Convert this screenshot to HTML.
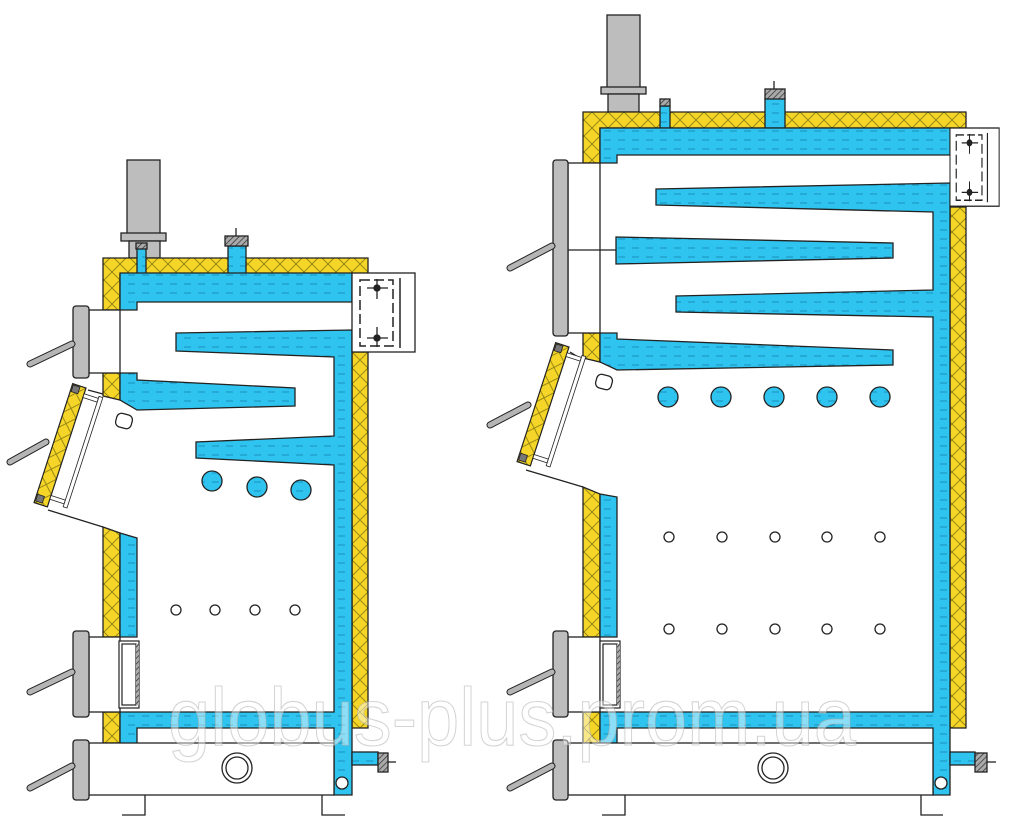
<!DOCTYPE html>
<html><head><meta charset="utf-8"><style>html,body{margin:0;padding:0;background:#fff}svg{display:block}</style></head>
<body>
<svg width="1024" height="830" viewBox="0 0 1024 830" xmlns="http://www.w3.org/2000/svg">
<defs>
<pattern id="w" width="14" height="9" patternUnits="userSpaceOnUse">
<rect width="14" height="9" fill="#2ec4ef"/>
<line x1="2" y1="5" x2="9" y2="5" stroke="#1a8fb8" stroke-width="1"/>
</pattern>
<pattern id="y" width="16" height="16" patternUnits="userSpaceOnUse">
<rect width="16" height="16" fill="#f5d628"/>
<path d="M0 0L16 16M16 0L0 16" stroke="#8a7a10" stroke-width="0.8"/>
</pattern>
<pattern id="h" width="4" height="4" patternUnits="userSpaceOnUse" patternTransform="rotate(45)">
<rect width="4" height="4" fill="#aaa"/><line x1="0" y1="0" x2="0" y2="4" stroke="#333" stroke-width="1.5"/>
</pattern>
<g id="door">
<rect x="-14" y="0" width="14" height="125" fill="url(#y)" stroke="#222" stroke-width="1.2"/>
<rect x="-13" y="1" width="7" height="7" fill="#777" stroke="#222" stroke-width="0.8"/>
<rect x="-13" y="116" width="7" height="7" fill="#777" stroke="#222" stroke-width="0.8"/>
<rect x="0" y="6" width="15" height="4" fill="#fff" stroke="#222" stroke-width="0.8"/>
<rect x="0" y="113" width="15" height="4" fill="#fff" stroke="#222" stroke-width="0.8"/>
<rect x="15" y="4" width="4" height="116" fill="#fff" stroke="#222" stroke-width="0.8"/>
</g>
<g id="flue">
<rect x="0" y="0" width="63" height="79" fill="#fff" stroke="#222" stroke-width="1.3"/>
<rect x="8" y="7" width="33" height="66" fill="none" stroke="#222" stroke-width="1.5" stroke-dasharray="10 4"/>
<line x1="48" y1="5" x2="48" y2="75" stroke="#222" stroke-width="1.5"/>
<line x1="15" y1="15" x2="36" y2="15" stroke="#222"/><line x1="25" y1="6" x2="25" y2="26" stroke="#222"/>
<circle cx="25" cy="15" r="3" fill="#222"/>
<line x1="15" y1="65" x2="36" y2="65" stroke="#222"/><line x1="25" y1="54" x2="25" y2="74" stroke="#222"/>
<circle cx="25" cy="65" r="3" fill="#222"/>
</g>
<g id="ash">
<rect x="0" y="0" width="20" height="67" fill="#fff" stroke="#222" stroke-width="1.2"/>
<rect x="3" y="3" width="14" height="61" fill="#fff" stroke="#222" stroke-width="1.2"/>
<rect x="17" y="3" width="3" height="61" fill="url(#h)" stroke="none"/>
</g>
</defs>
<g stroke="#222" stroke-width="1.3">
<!-- ===== LEFT BOILER ===== -->
<rect x="127" y="160" width="33" height="74" fill="#bdbdbd"/>
<rect x="121" y="233" width="45" height="8" fill="#bdbdbd"/>
<rect x="129" y="241" width="31" height="17" fill="#bdbdbd"/>
<path d="M103 258H368V275H120V310H103Z" fill="url(#y)"/>
<rect x="352" y="352" width="16" height="376" fill="url(#y)"/>
<path d="M103 373H120V400L103 396Z" fill="url(#y)"/>
<path d="M103 527L120 533V637H103Z" fill="url(#y)"/>
<rect x="103" y="712" width="17" height="31" fill="url(#y)"/>
<rect x="137" y="248" width="9" height="28" fill="url(#w)"/>
<rect x="136" y="243" width="11" height="6" fill="url(#h)"/>
<rect x="228" y="246" width="18" height="30" fill="url(#w)"/>
<rect x="225" y="236" width="23" height="10" fill="url(#h)"/>
<line x1="236" y1="228" x2="236" y2="236"/>
<path d="M120 273H352V302H137V310H120Z" fill="url(#w)"/>
<path d="M176 333L352 330V795H334V728H137V744H120V712H334V465L196 458V442L334 436V357L176 351Z" fill="url(#w)"/>
<path d="M120 373H137V380L295 388V406L137 410L120 400Z" fill="url(#w)"/>
<path d="M120 533L137 538V637H120Z" fill="url(#w)"/>
<rect x="352" y="752" width="26" height="13" fill="url(#w)"/>
<rect x="378" y="753" width="10" height="19" fill="url(#h)"/>
<line x1="388" y1="762" x2="396" y2="762"/>
<circle cx="342" cy="783" r="6" fill="#fff"/>
<use href="#flue" x="352" y="273"/>
<rect x="89" y="310" width="31" height="63" fill="#fff"/>
<rect x="73" y="306" width="16" height="72" rx="3" fill="#bdbdbd"/>
<rect x="89" y="637" width="31" height="75" fill="#fff"/>
<use href="#ash" x="119" y="641"/>
<rect x="73" y="631" width="16" height="86" rx="3" fill="#bdbdbd"/>
<rect x="89" y="743" width="245" height="52" fill="#fff"/>
<rect x="73" y="740" width="16" height="60" rx="3" fill="#bdbdbd"/>
<circle cx="237" cy="768" r="15" fill="#fff"/><circle cx="237" cy="768" r="11" fill="#fff"/>
<path d="M122 815H145V795M345 815H322V795" fill="none"/>
<circle cx="212" cy="481" r="10" fill="url(#w)"/>
<circle cx="257" cy="487" r="10" fill="url(#w)"/>
<circle cx="301" cy="490" r="10" fill="url(#w)"/>
<g fill="#fff"><circle cx="176" cy="610" r="5"/><circle cx="215" cy="610" r="5"/><circle cx="255" cy="610" r="5"/><circle cx="295" cy="610" r="5"/></g>
<path d="M88 390L103 394M48 510L103 527" fill="none"/>
<use href="#door" transform="translate(86,388) rotate(18)"/>
<rect x="116" y="414" width="16" height="14" rx="5" fill="#fff" transform="rotate(15 124 421)"/>
<g stroke-width="7" stroke-linecap="round"><path d="M72 344L30 364M46 442L10 462M72 672L30 692M72 766L30 788" stroke="#222"/></g>
<g stroke-width="5" stroke-linecap="round"><path d="M72 344L30 364M46 442L10 462M72 672L30 692M72 766L30 788" stroke="#b5b5b5"/></g>
<!-- ===== RIGHT BOILER ===== -->
<rect x="607" y="15" width="33" height="73" fill="#bdbdbd"/>
<rect x="601" y="87" width="45" height="7" fill="#bdbdbd"/>
<rect x="608" y="94" width="31" height="18" fill="#bdbdbd"/>
<path d="M583 112H966V128H600V163H583Z" fill="url(#y)"/>
<rect x="950" y="207" width="16" height="521" fill="url(#y)"/>
<path d="M583 333H600V362L583 358Z" fill="url(#y)"/>
<path d="M583 487L600 494V637H583Z" fill="url(#y)"/>
<rect x="583" y="712" width="17" height="31" fill="url(#y)"/>
<rect x="660" y="106" width="10" height="22" fill="url(#w)"/>
<rect x="660" y="99" width="10" height="7" fill="url(#h)"/>
<rect x="765" y="98" width="20" height="30" fill="url(#w)"/>
<rect x="765" y="89" width="20" height="10" fill="url(#h)"/>
<line x1="774" y1="81" x2="774" y2="89"/>
<path d="M600 128H950V155H617V163H600Z" fill="url(#w)"/>
<path d="M656 189L950 183V795H933V728H617V743H600V712H933V317L676 312V296L933 290V212L656 205Z" fill="url(#w)"/>
<path d="M616 237L893 243V258L616 264Z" fill="url(#w)"/>
<path d="M600 333H617V339L893 350V365L617 370L600 362Z" fill="url(#w)"/>
<path d="M600 494L617 497V637H600Z" fill="url(#w)"/>
<rect x="950" y="752" width="25" height="13" fill="url(#w)"/>
<rect x="975" y="753" width="12" height="19" fill="url(#h)"/>
<line x1="987" y1="762" x2="996" y2="762"/>
<circle cx="941" cy="783" r="6" fill="#fff"/>
<use href="#flue" transform="translate(950,128) scale(0.78,0.99)"/>
<rect x="568" y="163" width="32" height="170" fill="#fff"/>
<line x1="568" y1="250" x2="616" y2="250"/>
<rect x="553" y="160" width="15" height="176" rx="3" fill="#bdbdbd"/>
<rect x="568" y="637" width="32" height="75" fill="#fff"/>
<use href="#ash" x="600" y="641"/>
<rect x="553" y="631" width="15" height="86" rx="3" fill="#bdbdbd"/>
<rect x="568" y="743" width="365" height="52" fill="#fff"/>
<rect x="553" y="740" width="15" height="60" rx="3" fill="#bdbdbd"/>
<circle cx="773" cy="768" r="15" fill="#fff"/><circle cx="773" cy="768" r="11" fill="#fff"/>
<path d="M602 815H625V795M943 815H921V795" fill="none"/>
<g fill="url(#w)"><circle cx="668" cy="397" r="10"/><circle cx="721" cy="397" r="10"/><circle cx="774" cy="397" r="10"/><circle cx="827" cy="397" r="10"/><circle cx="880" cy="397" r="10"/></g>
<g fill="#fff"><circle cx="669" cy="537" r="5"/><circle cx="722" cy="537" r="5"/><circle cx="775" cy="537" r="5"/><circle cx="827" cy="537" r="5"/><circle cx="880" cy="537" r="5"/>
<circle cx="669" cy="629" r="5"/><circle cx="722" cy="629" r="5"/><circle cx="775" cy="629" r="5"/><circle cx="827" cy="629" r="5"/><circle cx="880" cy="629" r="5"/></g>
<path d="M570 352L583 360M526 470L583 487" fill="none"/>
<use href="#door" transform="translate(569,347) rotate(18)"/>
<rect x="596" y="375" width="16" height="14" rx="5" fill="#fff" transform="rotate(15 604 382)"/>
<g stroke-width="7" stroke-linecap="round"><path d="M552 246L510 268M528 405L490 425M552 672L510 692M552 766L510 788" stroke="#222"/></g>
<g stroke-width="5" stroke-linecap="round"><path d="M552 246L510 268M528 405L490 425M552 672L510 692M552 766L510 788" stroke="#b5b5b5"/></g>
</g>
<text x="168" y="745" font-family="Liberation Sans, sans-serif" font-size="82" textLength="688" lengthAdjust="spacingAndGlyphs" fill="rgba(255,255,255,0.45)" stroke="rgba(170,170,170,0.5)" stroke-width="1.1">globus-plus.prom.ua</text>
</svg>
</body></html>
